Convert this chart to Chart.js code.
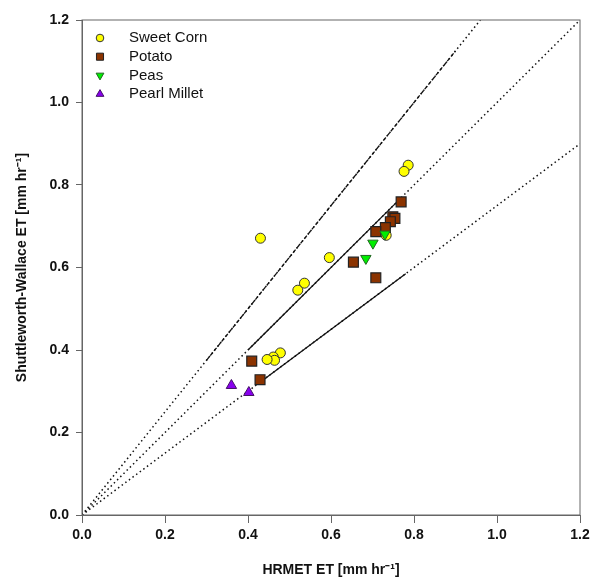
<!DOCTYPE html>
<html>
<head>
<meta charset="utf-8">
<script src="https://cdn.jsdelivr.net/npm/chart.js@4.4.1/dist/chart.umd.min.js"></script>
<style>
  html, body { margin: 0; padding: 0; background: #fff; }
  #wrap { width: 594px; height: 583px; }
</style>
</head>
<body>
<div id="wrap"><canvas id="chart1"></canvas></div>
<script>
// data
var cornX = [0.430, 0.596, 0.536, 0.520, 0.786, 0.776, 0.733, 0.478, 0.461, 0.464, 0.446];
var cornY = [0.671, 0.624, 0.562, 0.545, 0.848, 0.833, 0.678, 0.393, 0.383, 0.375, 0.377];
var potatoX = [0.769, 0.749, 0.754, 0.743, 0.731, 0.708, 0.654, 0.708, 0.409, 0.429];
var potatoY = [0.759, 0.723, 0.719, 0.711, 0.697, 0.687, 0.613, 0.575, 0.373, 0.328];
var peasX = [0.730, 0.701, 0.684];
var peasY = [0.681, 0.659, 0.622];
var milletX = [0.360, 0.402];
var milletY = [0.314, 0.297];

// reference lines y = k * x (+25%, 1:1, -25%)
var slopes = [1.25, 1.0, 0.75];
var solidFrom = [0.30, 0.40, 0.43];
var solidTo = [0.90, 0.77, 0.78];
var ticks = [0, 0.2, 0.4, 0.6, 0.8, 1.0, 1.2];

function pts(xs, ys) {
  return xs.map(function(x, i) { return {x: x, y: ys[i]}; });
}

function lineTo(k, x0, x1) {
  var xEnd = Math.min(x1, 1.2 / k);
  return [{x: x0, y: k * x0}, {x: xEnd, y: k * xEnd}];
}

var datasets = [
  { label: 'Sweet Corn', data: pts(cornX, cornY), pointStyle: 'circle', pointRadius: 5,
    backgroundColor: '#ffff00', borderColor: '#333', borderWidth: 1, order: 4, legR: 3.8 },
  { label: 'Potato', data: pts(potatoX, potatoY), pointStyle: 'rect', pointRadius: 7,
    backgroundColor: '#8b3300', borderColor: '#222', borderWidth: 1.2, order: 3, legR: 5 },
  { label: 'Peas', data: pts(peasX, peasY), pointStyle: 'triangle', rotation: 180, pointRadius: 6,
    backgroundColor: '#00ee00', borderColor: '#226622', borderWidth: 1, order: 2, legR: 4.5 },
  { label: 'Pearl Millet', data: pts(milletX, milletY), pointStyle: 'triangle', pointRadius: 6,
    backgroundColor: '#8800ee', borderColor: '#441166', borderWidth: 1, order: 1, legR: 4.5 }
];

slopes.forEach(function(k, i) {
  datasets.push({ label: 'ref', type: 'line', data: lineTo(k, 0, 1.2), showLine: true,
    pointRadius: 0, borderColor: '#111', borderWidth: 1.5, borderDash: [1.5, 3],
    fill: false, order: 10, isRef: true });
  datasets.push({ label: 'seg', type: 'line', data: lineTo(k, solidFrom[i], solidTo[i]), showLine: true,
    pointRadius: 0, borderColor: '#111', borderWidth: 1.3, borderDash: i === 0 ? [4, 2] : [],
    fill: false, order: 9, isRef: true });
});

// legend drawn inside the plot, plus the box frame
var boxLegend = {
  id: 'boxLegend',
  afterDraw: function(chart) {
    var c = chart.ctx, a = chart.chartArea;
    c.save();
    c.strokeStyle = '#666';
    c.lineWidth = 1;
    c.strokeRect(a.left, a.top, a.right - a.left, a.bottom - a.top);
    c.font = '15px "Liberation Sans", Arial, sans-serif';
    c.textBaseline = 'middle';
    var y = 38;
    chart.data.datasets.forEach(function(ds) {
      if (ds.isRef) return;
      c.fillStyle = ds.backgroundColor;
      c.strokeStyle = ds.borderColor;
      c.lineWidth = 1;
      Chart.helpers.drawPoint(c, { pointStyle: ds.pointStyle, rotation: ds.rotation || 0,
        radius: ds.legR, borderWidth: 1 }, 100, y);
      c.fillStyle = '#111';
      c.fillText(ds.label, 129, y);
      y += 18.7;
    });
    c.restore();
  }
};

var tickFont = { family: '"Liberation Sans", Arial, sans-serif', size: 14, weight: 'bold' };

var ctx = document.getElementById('chart1').getContext('2d');
var myChart = new Chart(ctx, {
  type: 'scatter',
  data: { datasets: datasets },
  options: {
    responsive: true,
    maintainAspectRatio: false,
    animation: false,
    layout: { padding: { left: 10, top: 20, right: 14, bottom: 0 } },
    plugins: {
      legend: { display: false },
      tooltip: { enabled: false }
    },
    scales: {
      x: {
        type: 'linear', min: 0, max: 1.2,
        afterBuildTicks: function(s) { s.ticks = ticks.map(function(v) { return {value: v}; }); },
        afterFit: function(s) { s.height = 68; },
        grid: { drawOnChartArea: false, tickLength: 8, color: '#666', tickColor: '#666' },
        border: { color: '#666' },
        ticks: { color: '#111', font: tickFont, padding: 4, maxRotation: 0,
          callback: function(v) { return v.toFixed(1); } },
        title: { display: true, text: 'HRMET ET [mm hr\u207B\u00B9]', color: '#111', font: tickFont, padding: { top: 12 } }
      },
      y: {
        type: 'linear', min: 0, max: 1.2,
        afterBuildTicks: function(s) { s.ticks = ticks.map(function(v) { return {value: v}; }); },
        afterFit: function(s) { s.width = 72; },
        grid: { drawOnChartArea: false, tickLength: 6, color: '#666', tickColor: '#666' },
        border: { color: '#666' },
        ticks: { color: '#111', font: tickFont, padding: 7,
          callback: function(v) { return v.toFixed(1); } },
        title: { display: true, text: 'Shuttleworth-Wallace ET [mm hr\u207B\u00B9]', color: '#111', font: tickFont, padding: { bottom: 4 } }
      }
    }
  },
  plugins: [boxLegend]
});
</script>
</body>
</html>
